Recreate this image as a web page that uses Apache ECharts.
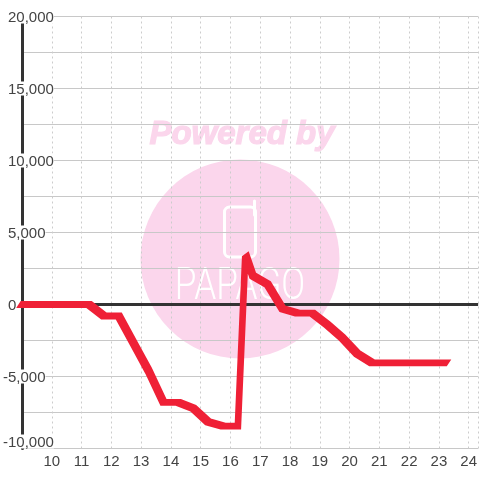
<!DOCTYPE html>
<html><head><meta charset="utf-8">
<style>html,body{margin:0;padding:0;background:#fff}#c{width:480px;height:480px}</style>
<script src="https://cdn.jsdelivr.net/npm/echarts@6/dist/echarts.min.js"></script>
</head><body><div id="c"></div>
<script>
var hours = [8.88, 11.25, 11.75, 12.25, 12.75, 13.25, 13.75, 14.25, 14.75, 15.25, 15.75, 16.25, 16.5, 16.75, 17.25, 17.75, 18.25, 18.75, 19.25, 19.75, 20.25, 20.75, 21.25, 21.75, 22.25, 22.75, 23.34];
var values = [0, 0, -800, -800, -2700, -4600, -6800, -6800, -7200, -8150, -8450, -8450, 3500, 2000, 1400, -300, -600, -600, -1400, -2300, -3400, -4050, -4050, -4050, -4050, -4050, -4050];
var yTickStep = 2500;
var yLabelled = [-10000, -5000, 0, 5000, 10000, 15000, 20000];
var wmColor = '#fbd6ec';
var wmTitle = 'Powered by';
var wmName = 'PAPAGO';

var chart = echarts.init(document.getElementById('c'), null, {renderer: 'canvas'});
var penLong = 4.4, penShort = 2, penAngle = Math.PI / 4;
chart.setOption({
  animation: false,
  backgroundColor: '#fff',
  grid: {left: 20.5, right: 0, top: 16.5, bottom: 31.5, containLabel: false},
  graphic: [
    {type: 'circle', z: -10, shape: {cx: 240, cy: 259, r: 99.5}, style: {fill: wmColor}},
    {type: 'text', z: -10, x: 242, y: 135, style: {text: wmTitle, fill: wmColor, stroke: wmColor, lineWidth: 1.2, align: 'center', verticalAlign: 'middle', font: 'italic bold 33px "Liberation Sans"'}},
    {type: 'rect', z: -9, shape: {x: 224.5, y: 207, width: 31, height: 50, r: 5}, style: {fill: 'none', stroke: '#fff', lineWidth: 3}},
    {type: 'line', z: -9, shape: {x1: 254.5, y1: 201, x2: 254.5, y2: 215}, style: {stroke: '#fff', lineWidth: 3, lineCap: 'round'}},
    {type: 'text', z: -9, x: 240, y: 288, scaleX: 0.8, style: {text: wmName, fill: '#fff', align: 'center', verticalAlign: 'middle', font: '300 44px Roboto'}}
  ],
  xAxis: {
    type: 'value', min: 9, max: 24.3167, interval: 1,
    axisLine: {show: false}, axisTick: {show: false},
    splitLine: {show: true, lineStyle: {color: '#ccc', width: 1, type: [2, 3]}},
    axisLabel: {show: true, showMinLabel: false, showMaxLabel: false, color: '#444', fontSize: 15, fontFamily: 'Liberation Sans', margin: 6}
  },
  yAxis: {
    type: 'value', min: -10000, max: 20000, interval: yTickStep,
    axisLine: {show: true, lineStyle: {color: '#333', width: 3}}, axisTick: {show: false},
    splitLine: {show: true, lineStyle: {color: '#c8c8c8', width: 1}},
    axisLabel: {
      inside: true, align: 'left', margin: -19, color: '#444', fontSize: 15, fontFamily: 'Liberation Sans',
      lineHeight: 11, verticalAlignMinLabel: 'bottom',
      backgroundColor: '#fff', padding: [3, 0, 0, 0], showMinLabel: true, showMaxLabel: true,
      rich: {p: {width: 5, lineHeight: 11}},
      formatter: function (v) {
        if (yLabelled.indexOf(v) < 0) return '';
        var t = v.toLocaleString('en-US');
        return v >= 0 ? '{p|}' + t : t;
      }
    }
  },
  series: [{
    type: 'custom', clip: false, z: 5,
    data: hours.map(function (h, i) { return [h, values[i]]; }),
    encode: {x: 0, y: 1},
    renderItem: function (params, api) {
      if (params.dataIndex !== 0) return null;
      var c = Math.cos(penAngle), s = Math.sin(penAngle);
      var pts = hours.map(function (h, i) {
        var p = api.coord([h, values[i]]);
        return [(p[0] * c - p[1] * s) / penLong, (p[0] * s + p[1] * c) / penShort];
      });
      return {
        type: 'polyline', rotation: penAngle, scaleX: penLong, scaleY: penShort,
        shape: {points: pts},
        style: {fill: null, stroke: '#ef2036', lineWidth: 2, lineCap: 'butt', lineJoin: 'miter', miterLimit: 5}
      };
    },
    markLine: {
      silent: true, symbol: 'none', animation: false, z: 3, label: {show: false},
      lineStyle: {color: '#333', width: 3, type: 'solid'},
      data: [{yAxis: 0}]
    }
  }]
});
</script></body></html>
